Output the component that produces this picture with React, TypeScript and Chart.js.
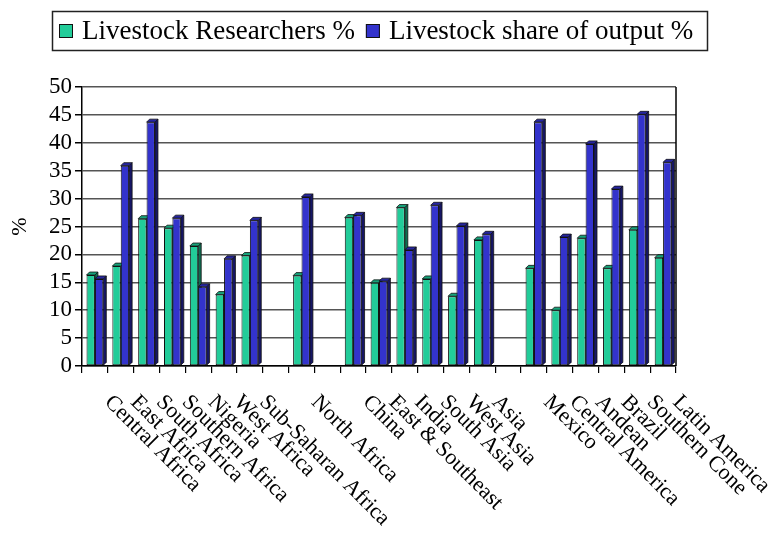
import React, { useEffect, useRef } from "react";
import { Chart, registerables } from "chart.js";

Chart.register(...registerables);

const categories = [
  "Central Africa",
  "East Africa",
  "South Africa",
  "Southern Africa",
  "Nigeria",
  "West Africa",
  "Sub-Saharan Africa",
  "",
  "North Africa",
  "",
  "China",
  "East & Southeast",
  "India",
  "South Asia",
  "West Asia",
  "Asia",
  "",
  "Mexico",
  "Central America",
  "Andean",
  "Brazil",
  "Southern Cone",
  "Latin America",
];

const researchersPct = [
  16.3, 17.9, 26.4, 24.7, 21.5, 12.8, 19.8, null, 16.2, null, 26.6, 14.9, 28.4,
  15.6, 12.5, 22.6, null, 17.5, 10.0, 22.9, 17.5, 24.4, 19.4,
];

const outputSharePct = [
  15.6, 35.9, 43.7, 26.5, 14.2, 19.2, 26.1, null, 30.3, null, 27.0, 15.2, 20.8,
  28.8, 25.1, 23.6, null, 43.7, 23.1, 39.8, 31.7, 45.1, 36.5,
];

const seriesLabels = ["Livestock Researchers %", "Livestock share of output %"];
const yAxisTitle = "%";
const yMin = 0;
const yMax = 50;
const yStep = 5;

const GREEN = "#22CC99";
const GREEN_TOP = "#17A27A";
const GREEN_SIDE = "#0E6E52";
const BLUE = "#3333CC";
const BLUE_TOP = "#2626A0";
const BLUE_SIDE = "#161666";
const FONT = "'Liberation Serif', 'Times New Roman', serif";

export default function App() {
  const ref = useRef<HTMLCanvasElement>(null);

  useEffect(() => {
    const canvas = ref.current;
    if (!canvas) return;
    const depth = 3;
    const tops = [GREEN_TOP, BLUE_TOP];
    const sides = [GREEN_SIDE, BLUE_SIDE];

    const facesPlugin = {
      id: "faces3d",
      beforeDatasetsDraw(chart: any) {
        const ctx = chart.ctx;
        ctx.save();
        ctx.lineWidth = 0.8;
        ctx.strokeStyle = "#111";
        chart.data.datasets.forEach((_: any, di: number) => {
          const meta = chart.getDatasetMeta(di);
          meta.data.forEach((el: any, i: number) => {
            const v = chart.data.datasets[di].data[i];
            if (v === null || v === undefined) return;
            const { x, y, base, width } = el.getProps(["x", "y", "base", "width"], true);
            const left = x - width / 2;
            const right = x + width / 2;
            const top = Math.min(y, base);
            ctx.beginPath();
            ctx.moveTo(right, top);
            ctx.lineTo(right + depth, top - depth);
            ctx.lineTo(right + depth, base - depth);
            ctx.lineTo(right, base);
            ctx.closePath();
            ctx.fillStyle = sides[di];
            ctx.fill();
            ctx.stroke();
            ctx.beginPath();
            ctx.moveTo(left, top);
            ctx.lineTo(left + depth, top - depth);
            ctx.lineTo(right + depth, top - depth);
            ctx.lineTo(right, top);
            ctx.closePath();
            ctx.fillStyle = tops[di];
            ctx.fill();
            ctx.stroke();
          });
        });
        ctx.restore();
      },
    };

    const decorPlugin = {
      id: "decor",
      afterDraw(chart: any) {
        const ctx = chart.ctx;
        const area = chart.chartArea;
        const xs = chart.scales.x;
        ctx.save();
        ctx.strokeStyle = "#000";
        ctx.lineWidth = 1.5;
        ctx.beginPath();
        ctx.moveTo(area.right, area.top);
        ctx.lineTo(area.right, area.bottom);
        ctx.stroke();

        ctx.fillStyle = "#000";
        ctx.font = `22px ${FONT}`;
        ctx.textAlign = "left";
        ctx.textBaseline = "middle";
        categories.forEach((lab, i) => {
          if (!lab) return;
          const px = xs.getPixelForValue(i);
          ctx.save();
          ctx.translate(px + 13, area.bottom + 33);
          ctx.rotate(Math.PI / 4);
          ctx.fillText(lab, 0, 0);
          ctx.restore();
        });

        ctx.save();
        ctx.font = `22px ${FONT}`;
        ctx.textAlign = "center";
        ctx.textBaseline = "middle";
        ctx.translate(20, (area.top + area.bottom) / 2);
        ctx.rotate(-Math.PI / 2);
        ctx.fillText(yAxisTitle, 0, 0);
        ctx.restore();

        ctx.font = `27px ${FONT}`;
        ctx.textBaseline = "middle";
        ctx.textAlign = "left";
        const boxL = 52.5, boxT = 11.5, boxR = 707.5, boxB = 50.5;
        ctx.lineWidth = 1.5;
        ctx.strokeStyle = "#222";
        ctx.strokeRect(boxL, boxT, boxR - boxL, boxB - boxT);
        const cy = 31;
        const colors = [GREEN, BLUE];
        let x = 59;
        seriesLabels.forEach((lab, i) => {
          ctx.fillStyle = colors[i];
          ctx.fillRect(x, cy - 7, 14, 14);
          ctx.lineWidth = 1;
          ctx.strokeStyle = "#111";
          ctx.strokeRect(x + 0.5, cy - 6.5, 13, 13);
          ctx.fillStyle = "#000";
          ctx.fillText(lab, x + 23, cy + 1);
          x = x + 23 + ctx.measureText(lab).width + 11;
        });
        ctx.restore();
      },
    };

    const chart = new Chart(canvas, {
      type: "bar",
      data: {
        labels: categories,
        datasets: [
          {
            label: seriesLabels[0],
            data: researchersPct,
            backgroundColor: GREEN,
            borderColor: "#111",
            borderWidth: 1,
            borderSkipped: false,
            barPercentage: 1,
            categoryPercentage: 0.65,
          },
          {
            label: seriesLabels[1],
            data: outputSharePct,
            backgroundColor: BLUE,
            borderColor: "#111",
            borderWidth: 1,
            borderSkipped: false,
            barPercentage: 1,
            categoryPercentage: 0.65,
          },
        ],
      },
      options: {
        responsive: false,
        animation: false,
        events: [],
        layout: { padding: { top: 87, right: 94, left: 0, bottom: 0 } },
        plugins: {
          legend: { display: false },
          tooltip: { enabled: false },
          title: { display: false },
        },
        scales: {
          x: {
            offset: true,
            grid: {
              display: true,
              drawOnChartArea: false,
              drawTicks: true,
              tickLength: 7,
              color: "#000",
              lineWidth: 1.2,
              offset: true,
            },
            border: { color: "#000", width: 1.5 },
            ticks: { display: false },
            afterFit: (s: any) => {
              s.height = 170;
            },
          },
          y: {
            min: yMin,
            max: yMax,
            ticks: {
              stepSize: yStep,
              autoSkip: false,
              color: "#000",
              font: { family: FONT, size: 23 },
              padding: 3,
            },
            grid: {
              color: "#555",
              lineWidth: 1.5,
              tickLength: 7,
              tickColor: "#000",
            },
            border: { color: "#000", width: 1.5 },
            afterFit: (s: any) => {
              s.width = 82;
            },
          },
        },
      },
      plugins: [facesPlugin, decorPlugin],
    } as any);

    return () => chart.destroy();
  }, []);

  return (
    <div style={{ position: "absolute", left: 0, top: 0, width: 770, height: 536, background: "#fff" }}>
      <canvas ref={ref} width={770} height={536} style={{ display: "block" }} />
    </div>
  );
}
